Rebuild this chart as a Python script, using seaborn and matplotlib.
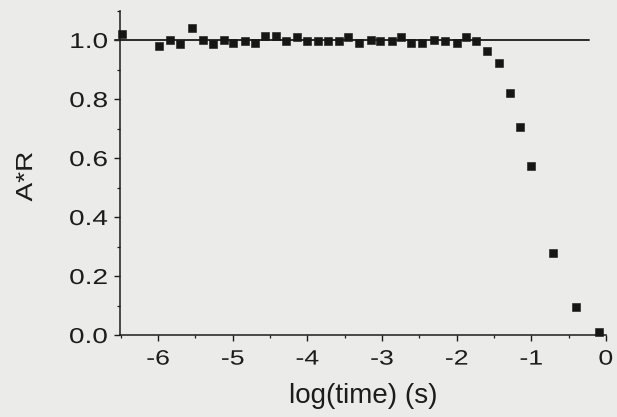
import matplotlib
matplotlib.use("Agg")
import matplotlib.pyplot as plt
from matplotlib import patheffects
from matplotlib.ticker import MultipleLocator
from matplotlib.transforms import Affine2D
import pandas as pd
import seaborn as sns

# Normalised signal A*R against log10 of time
log_time = [-6.48, -5.99, -5.84, -5.71, -5.55, -5.40, -5.27, -5.12, -5.00, -4.84,
            -4.70, -4.57, -4.42, -4.28, -4.14, -4.01, -3.86, -3.72, -3.58, -3.45,
            -3.31, -3.15, -3.02, -2.87, -2.74, -2.61, -2.46, -2.30, -2.15, -2.00,
            -1.87, -1.74, -1.59, -1.43, -1.28, -1.15, -1.00, -0.71, -0.40, -0.09]
a_times_r = [1.020, 0.980, 1.000, 0.985, 1.040, 1.000, 0.987, 1.000, 0.990, 0.997,
             0.990, 1.013, 1.013, 0.997, 1.010, 0.997, 0.997, 0.995, 0.997, 1.010,
             0.990, 1.000, 0.997, 0.995, 1.010, 0.990, 0.990, 1.000, 0.997, 0.990,
             1.010, 0.997, 0.964, 0.921, 0.819, 0.704, 0.573, 0.279, 0.096, 0.011]

# Reference level
ref_x = [-6.58, -0.23]
ref_y = [1.0, 1.0]

x_ticks = [-6, -5, -4, -3, -2, -1, 0]
y_ticks = [0.0, 0.2, 0.4, 0.6, 0.8, 1.0]


class Stretch(patheffects.AbstractPathEffect):
    """Draw text widened by (sx, sy) about an anchor of its own outline."""

    def __init__(self, sx=1.0, sy=1.0, anchor="center"):
        super().__init__()
        self.sx, self.sy, self.anchor = sx, sy, anchor

    def draw_path(self, renderer, gc, tpath, affine, rgbFace=None):
        ext = tpath.get_extents(affine)
        cx = ext.x1 if self.anchor == "right" else 0.5 * (ext.x0 + ext.x1)
        cy = 0.5 * (ext.y0 + ext.y1)
        t = affine + Affine2D().translate(-cx, -cy).scale(self.sx, self.sy).translate(cx, cy)
        renderer.draw_path(gc, tpath, t, rgbFace)


sns.set_theme(style="ticks")
bg = "#ebebea"
ink = "#1c1c1c"
plt.rcParams["font.family"] = ["Liberation Sans", "DejaVu Sans"]

df = pd.DataFrame({"log_time": log_time, "ar": a_times_r})

fig = plt.figure(figsize=(6.17, 4.17), dpi=100, facecolor=bg)
ax = fig.add_axes([0.1945, 0.1966, 0.7875, 0.7782])
ax.set_facecolor(bg)

ax.plot(ref_x, ref_y, color="#2a2a2a", lw=1.4, clip_on=False, zorder=2)
sns.scatterplot(data=df, x="log_time", y="ar", marker="s", s=27,
                color="#161616", edgecolor="#161616", linewidth=0.4,
                ax=ax, zorder=3, clip_on=False)

ax.set_xlim(-6.51, 0)
ax.set_ylim(0, 1.1)
ax.set_xticks(x_ticks)
ax.set_xticklabels([str(t) for t in x_ticks])
ax.set_yticks(y_ticks)
ax.set_yticklabels([f"{t:.1f}" for t in y_ticks])
ax.xaxis.set_minor_locator(MultipleLocator(0.5))
ax.yaxis.set_minor_locator(MultipleLocator(0.1))

for side in ("top", "right"):
    ax.spines[side].set_visible(False)
for side in ("left", "bottom"):
    ax.spines[side].set_color(ink)
    ax.spines[side].set_linewidth(1.1)

ax.tick_params(axis="both", which="major", direction="out", length=4.5,
               width=1.0, color=ink, labelcolor=ink)
ax.tick_params(axis="both", which="minor", direction="out", length=2.5,
               width=0.9, color=ink)
ax.tick_params(axis="x", which="major", pad=6.0, labelsize=15)
ax.tick_params(axis="y", which="major", pad=4.2, labelsize=15.5)

for tick in ax.yaxis.get_major_ticks():
    tick.label1.set_path_effects([Stretch(1.3, 1.0, anchor="right")])
for tick in ax.xaxis.get_major_ticks():
    tick.label1.set_path_effects([Stretch(1.28, 1.0)])

ax.set_xlabel("log(time) (s)", fontsize=20, color=ink)
ax.xaxis.label.set_va("baseline")
ax.xaxis.set_label_coords(0.5, -0.2096)

ax.set_ylabel("A*R", fontsize=16.8, color=ink)
ax.yaxis.label.set_va("center")
ax.yaxis.set_label_coords(-0.1944, 0.488)
ax.yaxis.label.set_path_effects([Stretch(1.0, 1.2)])

fig.savefig("out.png", dpi=100, facecolor=bg)
